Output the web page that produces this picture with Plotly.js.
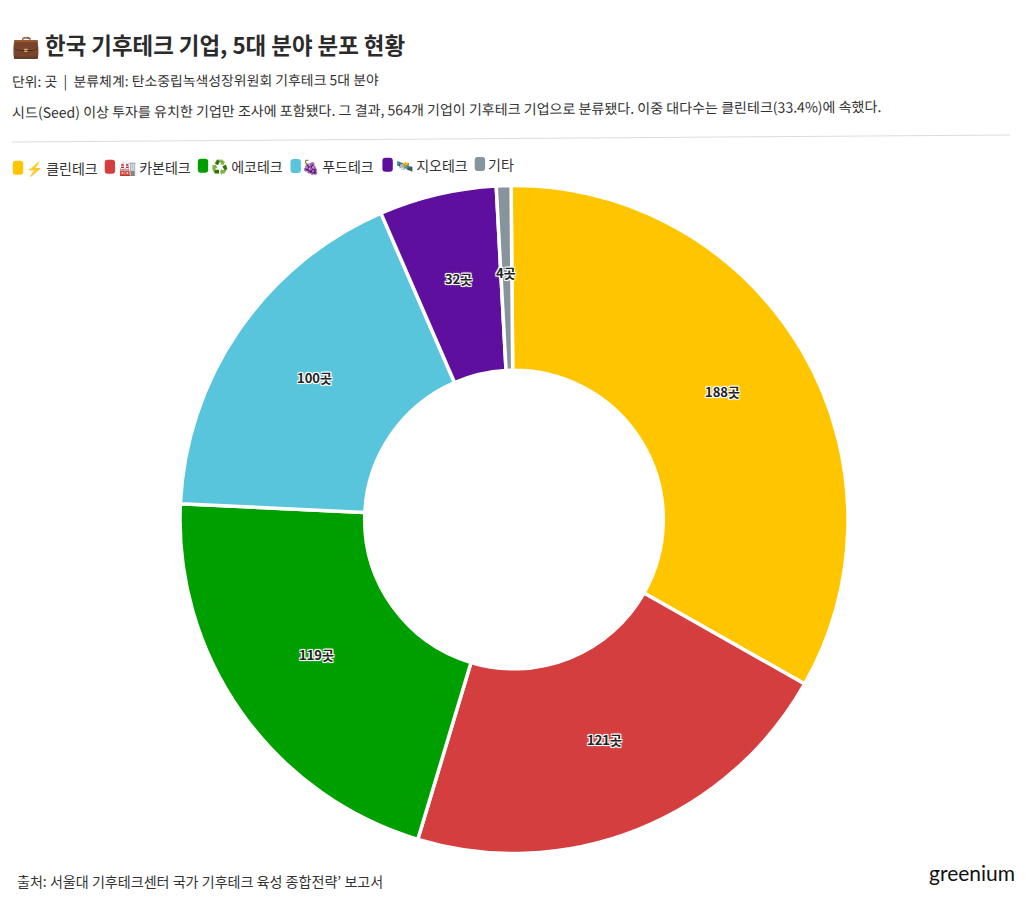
<!DOCTYPE html>
<html><head><meta charset="utf-8">
<script src="https://cdn.plot.ly/plotly-3.0.0.min.js"></script>
<style>html,body{margin:0;padding:0;background:#fff}#c{width:1026px;height:906px}</style>
</head><body><div id="c"></div>
<script>
const categories = ['⚡ 클린테크','🏭 카본테크','♻️ 에코테크','🍇 푸드테크','🛰️ 지오테크','기타'];
const counts = [188,121,119,100,32,4];
const labelsText = ['188곳','121곳','119곳','100곳','32곳','4곳'];
const colors = ['#FFC600','#D53E3E','#009F00','#58C5DC','#5E0F9E','#87949B'];
const titleText = '💼 한국 기후테크 기업, 5대 분야 분포 현황';
const unitText = '단위: 곳  |  분류체계: 탄소중립녹색성장위원회 기후테크 5대 분야';
const descText = '시드(Seed) 이상 투자를 유치한 기업만 조사에 포함됐다. 그 결과, 564개 기업이 기후테크 기업으로 분류됐다. 이중 대다수는 클린테크(33.4%)에 속했다.';
const sourceText = '출처: 서울대 기후테크센터 국가 기후테크 육성 종합전략’ 보고서';
const logoText = 'greenium';
const swatchX = [12.8,104.7,197.8,290.5,382.4,474.7];
const swatchY = [167.7,166.7,165.8,166,164.8,164];
const legendTextX = [26,119,211,302,396,488];
const W=1026,H=906;
const F='"Noto Sans CJK KR","Noto Sans",sans-serif';
const cx=514,cy=519.5,R=334,rot=-0.5,midR=242,labelDy=-5;
function note(x,y,text,size,color,weight,anchor,angle){
  return {xref:'paper',yref:'paper',x:x/W,y:1-y/H,xanchor:anchor||'left',yanchor:'middle',showarrow:false,
    text:text,font:{family:F,size:size,color:color,weight:weight||400},align:'left',textangle:angle||0};
}
function swatch(x,y,color){
  const w=10.4,h=14,r=3,px=v=>(v/W).toFixed(5),py=v=>(1-v/H).toFixed(5);
  const l=x,t=y-h/2,R2=x+w,b=y+h/2;
  const path=`M${px(l+r)},${py(t)} L${px(R2-r)},${py(t)} Q${px(R2)},${py(t)} ${px(R2)},${py(t+r)} L${px(R2)},${py(b-r)} Q${px(R2)},${py(b)} ${px(R2-r)},${py(b)} L${px(l+r)},${py(b)} Q${px(l)},${py(b)} ${px(l)},${py(b-r)} L${px(l)},${py(t+r)} Q${px(l)},${py(t)} ${px(l+r)},${py(t)} Z`;
  return {type:'path',xref:'paper',yref:'paper',path:path,fillcolor:color,line:{width:0}};
}
const total=counts.reduce((a,b)=>a+b,0);
let cum=0;
const halo='1px 1px 0 #fff, -1px -1px 0 #fff, 1px -1px 0 #fff, -1px 1px 0 #fff, 0 0 3px #fff';
const sliceLabels=counts.map((v,i)=>{
  const th=(rot+(cum+v/2)/total*360)*Math.PI/180; cum+=v;
  const x=cx+midR*Math.sin(th), y=cy-midR*Math.cos(th)+labelDy;
  const a=note(x,y,labelsText[i],13,'#222',600,'center');
  a.font.shadow=halo; return a;
});
const legendNotes=categories.map((c,i)=>note(legendTextX[i]-2,swatchY[i],c,14,'#333'));
Plotly.newPlot('c',[{
  type:'pie',labels:categories,values:counts,textinfo:'none',
  hole:0.447,sort:false,direction:'clockwise',rotation:rot,
  domain:{x:[(cx-R)/W,(cx+R)/W],y:[1-(cy+R)/H,1-(cy-R)/H]},
  marker:{colors:colors,line:{color:'#fff',width:3.5}},
  hoverinfo:'label+value'
}],{
  width:W,height:H,margin:{l:0,r:0,t:0,b:0},paper_bgcolor:'#fff',showlegend:false,
  annotations:[
    note(10,44.5,titleText,22.4,'#2b2b2b',700),
    note(10,80,unitText,13.9,'#333',400,'left',-0.3),
    note(10,108.5,descText,14.06,'#333',400,'left',-0.4),
    note(15,881,sourceText,14.07,'#333'),
    Object.assign(note(1017,872,logoText,20,'#111',400,'right'),{font:{family:'Lato,sans-serif',size:21,color:'#111',weight:400}})
  ].concat(legendNotes,sliceLabels),
  shapes:[{type:'line',xref:'paper',yref:'paper',x0:12/W,x1:1010/W,y0:1-142/H,y1:1-135/H,line:{color:'#dcdcdc',width:1}}]
    .concat(swatchX.map((x,i)=>swatch(x,swatchY[i],colors[i])))
},{displayModeBar:false,responsive:false});
</script></body></html>
